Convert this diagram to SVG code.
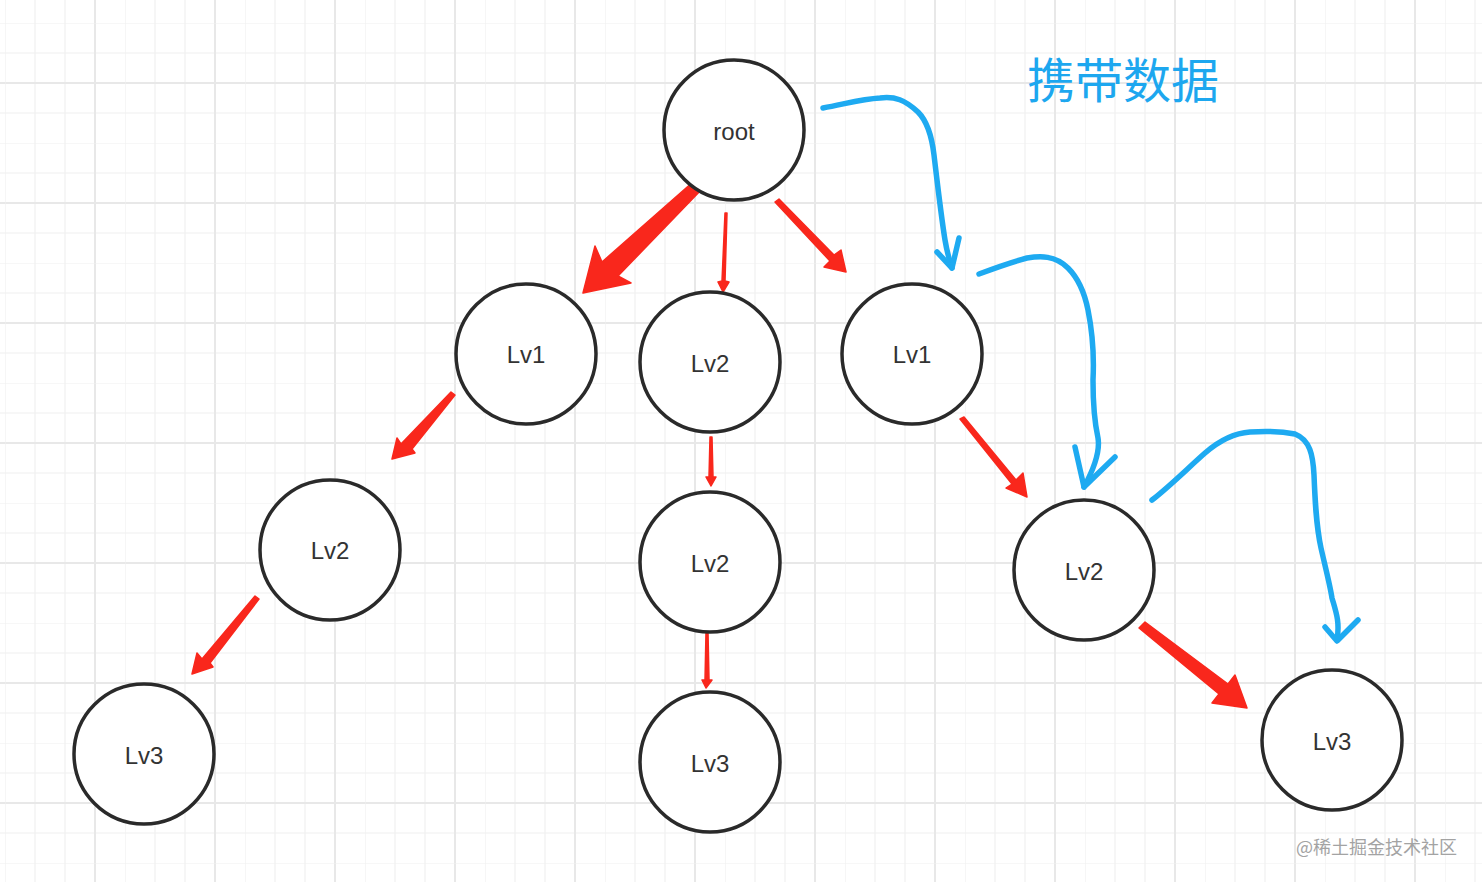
<svg xmlns="http://www.w3.org/2000/svg" width="1482" height="882" viewBox="0 0 1482 882">
<style>
.node circle{fill:#fff;stroke:#2a2a2a;stroke-width:3.5}
.node text{font-family:"Liberation Sans",Arial,sans-serif;font-size:24px;fill:#333;text-anchor:middle}
.red{fill:#f9271c;stroke:#f9271c;stroke-width:1.5;stroke-linejoin:round}
.blue{fill:none;stroke:#1eaaf1;stroke-width:5.5;stroke-linecap:round;stroke-linejoin:round}
</style>
<defs>
<pattern id="g" x="5" y="23" width="120" height="120" patternUnits="userSpaceOnUse">
<path d="M30 0V120M60 0V120M90 0V120M0 30H120M0 60H120M0 90H120" stroke="#f0f0f0" stroke-width="1.2"/>
<path d="M90 0V120M0 60H120" stroke="#e8e8e8" stroke-width="2"/>
<path d="M0 0V120M0 0H120" stroke="#f0f0f0" stroke-width="1.2"/>
</pattern>
</defs>
<rect width="1482" height="882" fill="#fff"/>
<rect width="1482" height="882" fill="url(#g)"/>
<text x="1123" y="98" font-family="'Noto Sans CJK SC',sans-serif" font-size="48" fill="#1da7ef" text-anchor="middle">携带数据</text>
<g id="connectors">
<polygon class="red" points="694,181 702,189 618,276 631,283 583,293 595,246 602,262"/>
<polygon class="red" points="725,213 727,213 725,281 729,282 723,292 718,282 722,281"/>
<polygon class="red" points="775,202 779,199 834,255 841,250 846,272 824,267 830,261"/>
<polygon class="red" points="451,392 455,395 412,449 415,453 392,459 397,438 401,444"/>
<polygon class="red" points="255,596 259,599 210,663 213,667 192,674 197,653 202,659"/>
<polygon class="red" points="710,437 712,437 713,477 716,477 711,486 706,477 709,477"/>
<polygon class="red" points="706,632 708,632 709,680 712,680 706,688 702,680 705,680"/>
<polygon class="red" points="960,419 964,417 1016,480 1023,473 1027,497 1006,488 1012,484"/>
<polygon class="red" points="1139,628 1145,622 1228,684 1235,675 1247,708 1212,703 1219,694"/>
<path class="blue" d="M823,108 C845,104 862,99 880,98 C895,96 905,100 918,112 C928,122 932,138 934,155 C937,180 941,215 945,240 C947,252 950,262 952,268"/>
<path class="blue" d="M937,252 L952,268 L959,238"/>
<path class="blue" d="M979,274 C995,268 1012,262 1027,258 C1040,256 1055,255 1068,268 C1080,280 1085,295 1088,310 C1094,340 1094,360 1093,380 C1093,400 1094,420 1098,438 C1100,450 1096,465 1084,487"/>
<path class="blue" d="M1075,447 L1084,487 L1115,457"/>
<path class="blue" d="M1152,500 C1170,486 1188,468 1205,453 C1220,440 1235,433 1250,432 C1265,431 1280,431 1295,434 C1310,440 1313,455 1314,475 C1315,500 1316,525 1321,548 C1326,570 1330,585 1332,598 C1336,612 1340,622 1337,640"/>
<path class="blue" d="M1325,627 L1337,641 L1358,620"/>
</g>
<g id="n-root" class="node"><circle cx="734" cy="130" r="70"/><text x="734" y="140">root</text></g>
<g id="n-lv1-left" class="node"><circle cx="526" cy="354" r="70"/><text x="526" y="363">Lv1</text></g>
<g id="n-lv2-midtop" class="node"><circle cx="710" cy="362" r="70"/><text x="710" y="372">Lv2</text></g>
<g id="n-lv1-right" class="node"><circle cx="912" cy="354" r="70"/><text x="912" y="363">Lv1</text></g>
<g id="n-lv2-left" class="node"><circle cx="330" cy="550" r="70"/><text x="330" y="559">Lv2</text></g>
<g id="n-lv2-mid" class="node"><circle cx="710" cy="562" r="70"/><text x="710" y="572">Lv2</text></g>
<g id="n-lv2-right" class="node"><circle cx="1084" cy="570" r="70"/><text x="1084" y="580">Lv2</text></g>
<g id="n-lv3-left" class="node"><circle cx="144" cy="754" r="70"/><text x="144" y="764">Lv3</text></g>
<g id="n-lv3-mid" class="node"><circle cx="710" cy="762" r="70"/><text x="710" y="772">Lv3</text></g>
<g id="n-lv3-right" class="node"><circle cx="1332" cy="740" r="70"/><text x="1332" y="750">Lv3</text></g>
<text x="1457" y="854" font-family="'Noto Sans CJK SC',sans-serif" font-size="18" fill="#a3a3a3" text-anchor="end">@稀土掘金技术社区</text>
</svg>
